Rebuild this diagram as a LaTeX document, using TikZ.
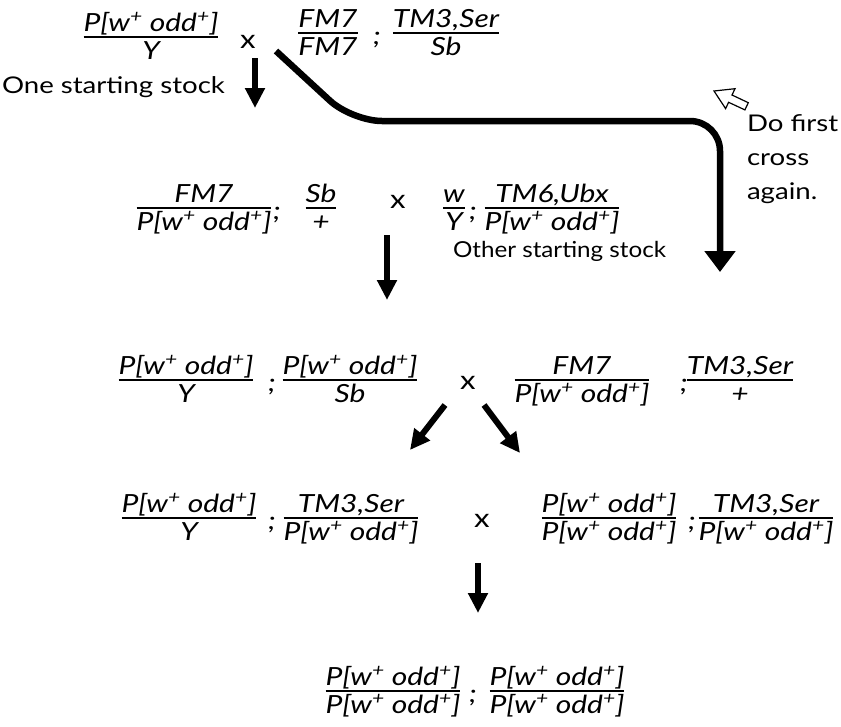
\documentclass[tikz,border=0pt]{standalone}
\usepackage{fontspec}
\setmainfont{Lato}[FakeStretch=1.2]
\newfontfamily\stockfont{Lato}[FakeStretch=1.1]
\usetikzlibrary{arrows.meta}
\setlength\arrayrulewidth{1.1pt}
% stacked genotype: numerator over a rule over denominator, baseline on the last row
\newcommand\fr[2]{{\renewcommand\arraystretch{0}%
  \begin{tabular}[b]{@{}c@{}}\rule[-5pt]{0pt}{19pt}#1\\\hline\rule{0pt}{22pt}#2\end{tabular}}}
\newcommand\Pw{P[w\textsuperscript{+} odd\textsuperscript{+}]}

\begin{document}
\begin{tikzpicture}[x=1pt,y=-1pt,
  every node/.style={inner sep=0pt, outer sep=0pt},
  fracnode/.style={font=\fontsize{25}{30}\selectfont\itshape, anchor=base, yshift=-22.55pt},
  semi/.style={font=\fontsize{25}{30}\selectfont\itshape, anchor=base, yshift=-11pt},
  crosssign/.style={font=\fontsize{26}{30}\selectfont},
  note/.style={font=\fontsize{23}{28}\selectfont, anchor=base west},
  flow/.style={line width=6pt, -{Triangle[length=20pt,width=19pt]}},
  back/.style={line width=6.5pt, rounded corners=30pt, -{Triangle[length=21pt,width=30pt]}},
]
\useasboundingbox (0,0) rectangle (841,726);

% first cross
\node[fracnode] (f11) at (151,37) {\fr{\Pw}{Y}};
\node[crosssign] (x1) at (248,42) {x};
\node[fracnode] (f12) at (328,33) {\fr{FM7}{FM7}};
\node[semi] (s11) at (377,33) {;};
\node[fracnode] (f13) at (446,33) {\fr{TM3,Ser}{Sb}};
\node[note] (one) at (2,93) {One starting stock};
\coordinate (a1s) at (255,58);
\coordinate (a1e) at (255,108);
\draw[flow] (a1s) -- (a1e);

% repeat of the first cross
\coordinate (bs) at (276,51);
\coordinate (be) at (720,272);
\draw[back] (bs) -- (352,121) -- (720,121) -- (be);
\filldraw[fill=white, line width=1.2pt, line join=miter]
  (714,91) -- (735.0,88.7) -- (732.0,95.0) -- (748.3,102.7)
  -- (744.9,109.9) -- (728.6,102.3) -- (725.6,108.6) -- cycle;
\node[note] (do1) at (747,131) {Do first};
\node[note] (do2) at (747,165) {cross};
\node[note] (do3) at (747,199) {again.};

% second cross
\node[fracnode] (f21) at (204,208) {\fr{FM7}{\Pw}};
\node[semi] (s21) at (277,208) {;};
\node[fracnode] (f22) at (321,208) {\fr{Sb}{+}};
\node[crosssign] (x2) at (398,202) {x};
\node[fracnode] (f23) at (454,208) {\fr{w}{Y}};
\node[semi] (s22) at (473,208) {;};
\node[fracnode] (f24) at (552,208) {\fr{TM6,Ubx}{\Pw}};
\node[note, font=\fontsize{22}{28}\stockfont] (other) at (453,257) {Other starting stock};
\coordinate (a2s) at (387,235);
\coordinate (a2e) at (387,300);
\draw[flow] (a2s) -- (a2e);

% third cross
\node[fracnode] (f31) at (186,380) {\fr{\Pw}{Y}};
\node[semi] (s31) at (272,380) {;};
\node[fracnode] (f32) at (350,380) {\fr{\Pw}{Sb}};
\node[crosssign] (x3) at (468,383) {x};
\node[fracnode] (f33) at (582,380) {\fr{FM7}{\Pw}};
\node[semi] (s32) at (684,380) {;};
\node[fracnode] (f34) at (740,380) {\fr{TM3,Ser}{+}};
\coordinate (a3ls) at (445,405);
\coordinate (a3le) at (410,450);
\coordinate (a3rs) at (484,405);
\coordinate (a3re) at (520,453);
\draw[flow] (a3ls) -- (a3le);
\draw[flow] (a3rs) -- (a3re);

% fourth cross
\node[fracnode] (f41) at (189,518) {\fr{\Pw}{Y}};
\node[semi] (s41) at (272,518) {;};
\node[fracnode] (f42) at (351,518) {\fr{TM3,Ser}{\Pw}};
\node[crosssign] (x4) at (482,521) {x};
\node[fracnode] (f43) at (609,518) {\fr{\Pw}{\Pw}};
\node[semi] (s42) at (692,518) {;};
\node[fracnode] (f44) at (766,518) {\fr{TM3,Ser}{\Pw}};
\coordinate (a4s) at (478,563);
\coordinate (a4e) at (478,613);
\draw[flow] (a4s) -- (a4e);

% result
\node[fracnode] (f51) at (393,691) {\fr{\Pw}{\Pw}};
\node[semi] (s51) at (473,691) {;};
\node[fracnode] (f52) at (557,691) {\fr{\Pw}{\Pw}};
\end{tikzpicture}
\end{document}
